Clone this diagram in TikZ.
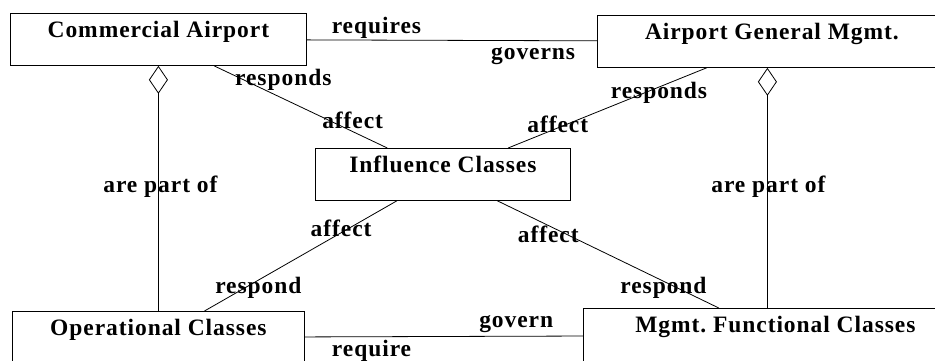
\documentclass[tikz,border=0pt]{standalone}
\usepackage{fontspec}
\setmainfont{Liberation Serif}[LetterSpace=4]
\usetikzlibrary{arrows.meta}

\begin{document}
\begin{tikzpicture}[x=1pt, y=-1pt, line width=0.8pt,
    font=\fontsize{23.5}{28}\selectfont\bfseries,
    cls/.style={draw, anchor=north west, inner sep=0pt, text height=24pt, text depth=28pt},
    lbl/.style={inner sep=0pt, anchor=base},
    part/.style={arrows={Diamond[open, length=28pt, width=19pt]-}}]
  \useasboundingbox (0,0) rectangle (935,360);

  \node[cls, minimum width=296pt] (ca) at (10,13) {Commercial Airport};
  \node[cls, minimum width=349pt] (agm) at (597,15) {Airport General Mgmt.};
  \node[cls, minimum width=255pt] (ic) at (315,148) {Influence Classes};
  \node[cls, minimum width=292pt] (op) at (12,311) {Operational Classes};
  \node[cls, minimum width=384pt, text depth=30pt] (mf) at (583,308) {Mgmt.\ Functional Classes};

  \draw (ca) -- node[lbl, pos=.24, yshift=7pt] (req1) {requires}
    node[lbl, pos=.78, yshift=-19pt] (gov1) {governs} (agm);
  \draw (ca) -- node[lbl, pos=.40, yshift=13pt] (rsp1) {responds}
    node[lbl, pos=.80, yshift=3pt] (aff1) {affect} (ic);
  \draw (agm) -- node[lbl, pos=.24, yshift=-11pt] (rsp2) {responds}
    node[lbl, pos=.75, yshift=-5pt] (aff2) {affect} (ic);
  \draw (ic) -- node[lbl, pos=.29, yshift=-4pt] (aff3) {affect}
    node[lbl, pos=.72, yshift=-13pt] (rsp3) {respond} (op);
  \draw (ic) -- node[lbl, pos=.23, yshift=-17pt] (aff4) {affect}
    node[lbl, pos=.75, yshift=-12pt] (rsp4) {respond} (mf);
  \draw (op) -- node[lbl, pos=.24, yshift=-20pt] (req2) {require}
    node[lbl, pos=.76, yshift=9pt] (gov2) {govern} (mf);

  % aggregation
  \draw[part] (ca.south) -- node[lbl, pos=.516, xshift=2pt] (prt1) {are part of} (op.north);
  \draw[part] ([xshift=-4.5pt]agm.south) -- node[lbl, pos=.519, xshift=1pt] (prt2) {are part of} ([xshift=-8pt]mf.north);
\end{tikzpicture}
\end{document}
